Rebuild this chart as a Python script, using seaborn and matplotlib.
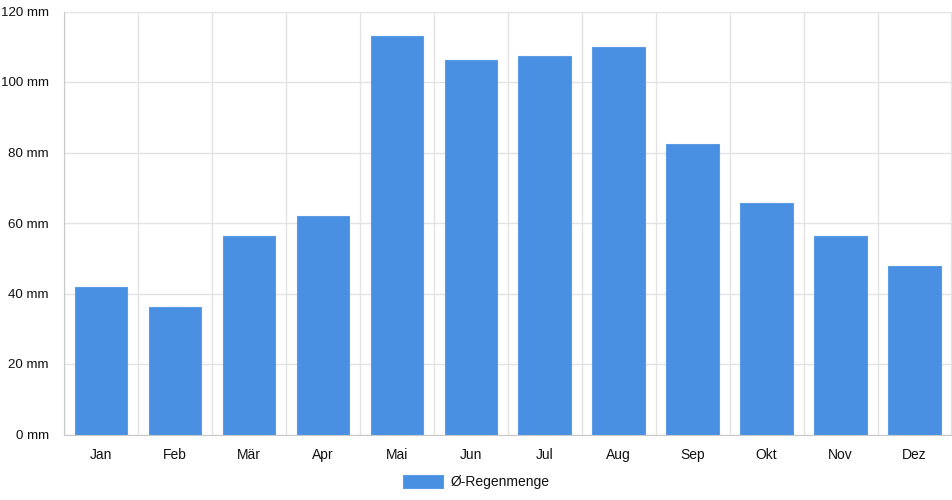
import numpy as np
import pandas as pd
import matplotlib
matplotlib.use('Agg')
import matplotlib.pyplot as plt
import seaborn as sns

# monthly average rainfall (mm)
months = ['Jan', 'Feb', 'Mär', 'Apr', 'Mai', 'Jun', 'Jul', 'Aug', 'Sep', 'Okt', 'Nov', 'Dez']
rain = [41.8, 36.1, 56.4, 62.0, 113.0, 106.2, 107.4, 110.0, 82.5, 65.7, 56.2, 47.7]
y_ticks = [0, 20, 40, 60, 80, 100, 120]
series_name = 'Ø-Regenmenge'

df = pd.DataFrame({'Monat': months, 'Regen': rain})

sns.set_style('white')
plt.rcParams['font.family'] = ['Liberation Sans', 'DejaVu Sans']

fig = plt.figure(figsize=(9.52, 5), dpi=100)
ax = fig.add_axes([64 / 952, 65.5 / 500, 887.5 / 952, 423 / 500])

sns.barplot(data=df, x='Monat', y='Regen', color='#4a90e2', width=0.71,
            saturation=1, edgecolor='#5c9ce6', linewidth=0.8, label=series_name, ax=ax)

grid_c = '#e3e3e3'
fs = 10
ax.set_xlim(-0.5, len(months) - 0.5)
ax.set_ylim(0, 120)
ax.set_yticks(y_ticks)
ax.set_yticklabels([f'{v} mm' for v in y_ticks])
ax.set_xticks(np.arange(len(months)))
ax.set_xticks(np.arange(len(months) + 1) - 0.5, minor=True)
ax.tick_params(axis='x', which='major', length=0, pad=10, labelsize=fs, colors='#111111')
ax.tick_params(axis='x', which='minor', length=8, color=grid_c, width=1)
ax.tick_params(axis='y', length=8, color=grid_c, width=1, pad=3, labelsize=9.6)
ax.tick_params(axis='y', labelcolor='#111111')
ax.grid(True, axis='y', which='major', color=grid_c, linewidth=1)
ax.grid(True, axis='x', which='minor', color=grid_c, linewidth=1)
ax.set_axisbelow(True)
ax.set_xlabel('')
ax.set_ylabel('')
for s in ['top', 'right']:
    ax.spines[s].set_visible(False)
ax.spines['left'].set_color('#c8c8c8')
ax.spines['bottom'].set_color('#c8c8c8')
if ax.get_legend():
    ax.get_legend().remove()

handles, labels = ax.get_legend_handles_labels()
leg = fig.legend(handles[:1], labels[:1], loc='center', bbox_to_anchor=(476 / 952, 1 - 482 / 500),
                 frameon=False, fontsize=fs, handlelength=2.9, handleheight=1.1, handletextpad=0.5)
for t in leg.get_texts():
    t.set_color('#111111')

fig.savefig('out.png', dpi=100)
